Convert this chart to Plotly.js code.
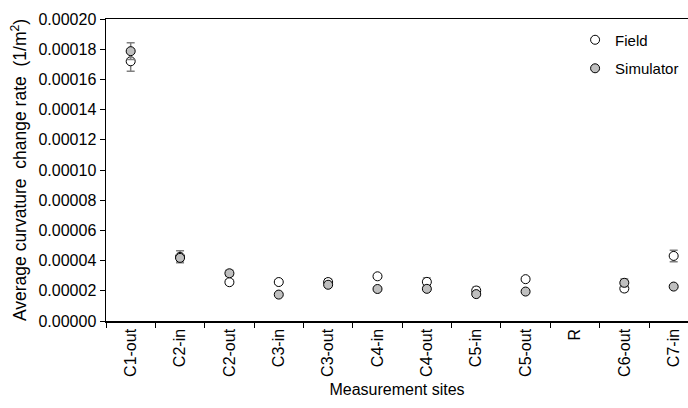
<!DOCTYPE html>
<html>
<head>
<meta charset="utf-8">
<script src="https://cdn.plot.ly/plotly-3.0.1.min.js"></script>
<style>html,body{margin:0;padding:0;background:#fff;}#chart{width:688px;height:408px;}</style>
</head>
<body>
<div id="chart"></div>
<script>
const sites = ["C1-out","C2-in","C2-out","C3-in","C3-out","C4-in","C4-out","C5-in","C5-out","R","C6-out","C7-in"];
const fieldValues = [0.0001720,0.0000425,0.0000257,0.0000258,0.0000258,0.0000296,0.0000259,0.0000202,0.0000277,null,0.0000215,0.0000431];
const fieldErrors = [0.0000066,0.0000040,0.0000015,0.0000015,0.0000020,0.0000012,0.0000025,0.0000022,0.0000012,null,0.0000020,0.0000038];
const simValues = [0.0001787,0.0000418,0.0000316,0.0000175,0.0000240,0.0000212,0.0000213,0.0000178,0.0000195,null,0.0000253,0.0000228];
const simErrors = [0.0000056,0.0000020,0.0000020,0.0000010,0.0000015,0.0000008,0.0000010,0.0000010,0.0000010,null,0.0000025,0.0000010];
const yTickVals = [0,0.00002,0.00004,0.00006,0.00008,0.0001,0.00012,0.00014,0.00016,0.00018,0.0002];

const font = "Liberation Sans, Arial, sans-serif";
const traces = [
  {
    type: "scatter", mode: "markers", name: "Field", legendgroup: "f",
    x: sites, y: fieldValues,
    marker: {symbol: "circle", size: 9, color: "#ffffff", line: {color: "#000000", width: 1}},
    error_y: {type: "data", array: fieldErrors, visible: true, color: "#7f7f7f", thickness: 1.5, width: 4}
  },
  {
    type: "scatter", mode: "markers", name: "Simulator", legendgroup: "s",
    x: sites, y: simValues,
    marker: {symbol: "circle", size: 9, color: "#bfbfbf", line: {color: "#000000", width: 1}},
    error_y: {type: "data", array: simErrors, visible: true, color: "#7f7f7f", thickness: 1.5, width: 4}
  }
];
const layout = {
  width: 688, height: 408,
  margin: {l: 106, r: 0, t: 19, b: 87, pad: 0},
  paper_bgcolor: "#ffffff", plot_bgcolor: "#ffffff",
  font: {family: font, size: 15, color: "#000000"},
  showlegend: true,
  legend: {x: 0.806, xanchor: "left", y: 0.985, yanchor: "top", bgcolor: "rgba(0,0,0,0)",
           font: {family: font, size: 15}, traceorder: "grouped", tracegroupgap: 6},
  xaxis: {
    type: "category", categoryorder: "array", categoryarray: sites,
    range: [-0.5, 11.29], tickangle: -90,
    showline: true, linecolor: "#000000", linewidth: 1.5, mirror: true,
    ticks: "outside", tickson: "boundaries", ticklen: 5, tickcolor: "#000000", tickwidth: 1,
    showgrid: false, zeroline: false,
    tickfont: {family: font, size: 16},
    title: {text: "Measurement sites", font: {family: font, size: 16}, standoff: 8}
  },
  yaxis: {
    range: [0, 0.0002], tickvals: yTickVals, tickformat: ".5f",
    showline: true, linecolor: "#000000", linewidth: 1.5,
    ticks: "outside", ticklen: 5, tickcolor: "#000000", tickwidth: 1,
    showgrid: false, zeroline: false,
    tickfont: {family: font, size: 16},
    title: {text: "Average curvature  change rate  (1/m<sup>2</sup>)", font: {family: font, size: 17.5}, standoff: 7}
  }
};
Plotly.newPlot("chart", traces, layout, {displayModeBar: false, staticPlot: true});
</script>
</body>
</html>
